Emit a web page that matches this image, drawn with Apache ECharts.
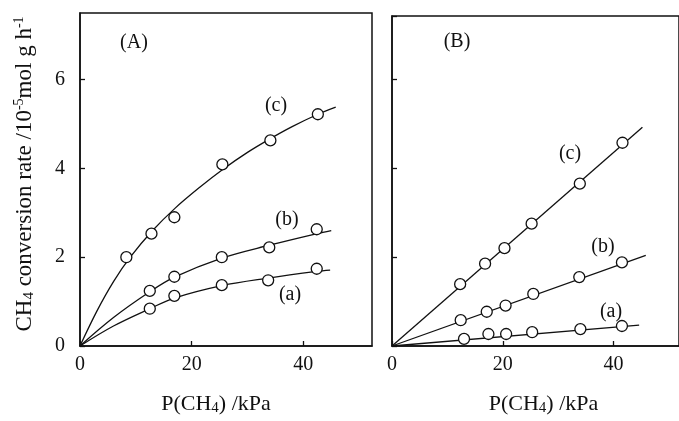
<!DOCTYPE html>
<html>
<head>
<meta charset="utf-8">
<script src="https://cdn.jsdelivr.net/npm/echarts@6/dist/echarts.min.js"></script>
<style>
  html, body { margin: 0; padding: 0; background: #fff; }
  #chart { width: 679px; height: 421px; }
</style>
</head>
<body>
<div id="chart"></div>
<script>
// Panel A – measured points [P(CH4) / kPa, rate / 10^-5 mol g^-1 h^-1]
const pointsA_a = [[12.5, 0.84], [16.9, 1.13], [25.4, 1.37], [33.7, 1.48], [42.4, 1.74]];
const pointsA_b = [[12.5, 1.24], [16.9, 1.56], [25.4, 2.0], [33.9, 2.22], [42.4, 2.63]];
const pointsA_c = [[8.3, 2.0], [12.8, 2.53], [16.9, 2.9], [25.5, 4.09], [34.1, 4.63], [42.6, 5.22]];

// Panel A – fitted curves
const curveA_a = [[0, 0], [6, 0.45], [12.5, 0.84], [16.9, 1.08], [25.4, 1.36], [33.7, 1.53], [42.4, 1.68], [44.8, 1.71]];
const curveA_b = [[0, 0], [6, 0.64], [12.5, 1.22], [16.9, 1.55], [25.4, 1.98], [33.9, 2.27], [42.4, 2.53], [45, 2.6]];
const curveA_c = [[0, 0], [3, 0.78], [6, 1.45], [9, 2.0], [13, 2.6], [17, 3.1], [21.5, 3.58], [25.5, 3.97],
                  [30, 4.36], [34.1, 4.67], [38, 4.94], [42.6, 5.22], [45.8, 5.38]];

// Panel B – measured points
const pointsB_a = [[13.0, 0.16], [17.4, 0.27], [20.6, 0.27], [25.3, 0.31], [34.0, 0.38], [41.5, 0.45]];
const pointsB_b = [[12.4, 0.58], [17.1, 0.77], [20.5, 0.91], [25.5, 1.17], [33.8, 1.55], [41.5, 1.88]];
const pointsB_c = [[12.3, 1.39], [16.8, 1.85], [20.3, 2.2], [25.2, 2.75], [33.9, 3.65], [41.6, 4.57]];

// Panel B – straight fit lines (origin to drawn end)
const lineB_a = [[0, 0], [44.6, 0.47]];
const lineB_b = [[0, 0], [45.8, 2.04]];
const lineB_c = [[0, 0], [45.2, 4.92]];

const FONT = '"Liberation Serif", "DejaVu Serif", serif';
const INK = '#111';

const chart = echarts.init(document.getElementById('chart'), null, { renderer: 'canvas' });

const subRich = {
  sub: { fontFamily: FONT, fontSize: 15, color: INK, verticalAlign: 'bottom' },
  sup: { fontFamily: FONT, fontSize: 14, color: INK, verticalAlign: 'top' }
};

function xAxis(gridIndex, max, namePad) {
  return {
    type: 'value', gridIndex, min: 0, max, interval: 20,
    name: 'P(CH{sub|4}) /kPa', nameLocation: 'middle', nameGap: 47,
    nameTextStyle: { fontFamily: FONT, fontSize: 22, color: INK, lineHeight: 23, padding: namePad, rich: subRich },
    axisLine: { show: true, lineStyle: { color: INK, width: 1.5 } },
    axisTick: { show: true, inside: true, length: 5, lineStyle: { color: INK, width: 1.3 } },
    axisLabel: { fontFamily: FONT, fontSize: 20, color: INK, margin: 9, showMaxLabel: false },
    splitLine: { show: false }
  };
}

function yAxis(gridIndex, max, withLabels) {
  const ax = {
    type: 'value', gridIndex, min: 0, max, interval: 2,
    axisLine: { show: true, lineStyle: { color: INK, width: 1.5 } },
    axisTick: { show: true, inside: true, length: 5, lineStyle: { color: INK, width: 1.3 } },
    axisLabel: { show: withLabels, fontFamily: FONT, fontSize: 20, color: INK, margin: 15, showMaxLabel: false },
    splitLine: { show: false }
  };
  if (withLabels) {
    ax.name = 'CH{sub|4} conversion rate /10{sup|-5}mol g h{sup|-1}';
    ax.nameLocation = 'middle';
    ax.nameGap = 43;
    ax.nameTextStyle = { fontFamily: FONT, fontSize: 23, color: INK, lineHeight: 25, padding: [0, 0, 0, 11], rich: subRich };
  }
  return ax;
}

function curve(data, idx) {
  return {
    type: 'line', data, xAxisIndex: idx, yAxisIndex: idx,
    smooth: 0.35, symbol: 'none', silent: true, z: 2,
    lineStyle: { color: INK, width: 1.3 }
  };
}

function marks(data, idx) {
  return {
    type: 'scatter', data, xAxisIndex: idx, yAxisIndex: idx,
    symbol: 'circle', symbolSize: 11, silent: true, z: 3,
    itemStyle: { color: '#fff', borderColor: INK, borderWidth: 1.3, opacity: 1 }
  };
}

function tag(text, x, y) {
  return {
    type: 'text', x, y, z: 10,
    style: { text, fontFamily: FONT, fontSize: 20, fill: INK, align: 'center', verticalAlign: 'middle' }
  };
}

chart.setOption({
  animation: false,
  backgroundColor: '#fff',
  grid: [
    { left: 80, top: 13, width: 292, height: 335, show: true, borderColor: INK, borderWidth: 1.5, containLabel: false },
    { left: 392, top: 16, width: 292, height: 336, show: true, borderColor: INK, borderWidth: 1.5, containLabel: false }
  ],
  xAxis: [xAxis(0, 52.3, [0, 20, 0, 0]), xAxis(1, 51.8, [0, 0, 0, 16])],
  yAxis: [yAxis(0, 7.5, true), yAxis(1, 7.42, false)],
  series: [
    curve(curveA_a, 0), curve(curveA_b, 0), curve(curveA_c, 0),
    marks(pointsA_a, 0), marks(pointsA_b, 0), marks(pointsA_c, 0),
    curve(lineB_a, 1), curve(lineB_b, 1), curve(lineB_c, 1),
    marks(pointsB_a, 1), marks(pointsB_b, 1), marks(pointsB_c, 1)
  ],
  graphic: [
    tag('(A)', 134, 43), tag('(B)', 457, 42),
    tag('(c)', 276, 106), tag('(b)', 287, 220), tag('(a)', 290, 295),
    tag('(c)', 570, 154), tag('(b)', 603, 247), tag('(a)', 611, 312)
  ]
});
</script>
</body>
</html>
